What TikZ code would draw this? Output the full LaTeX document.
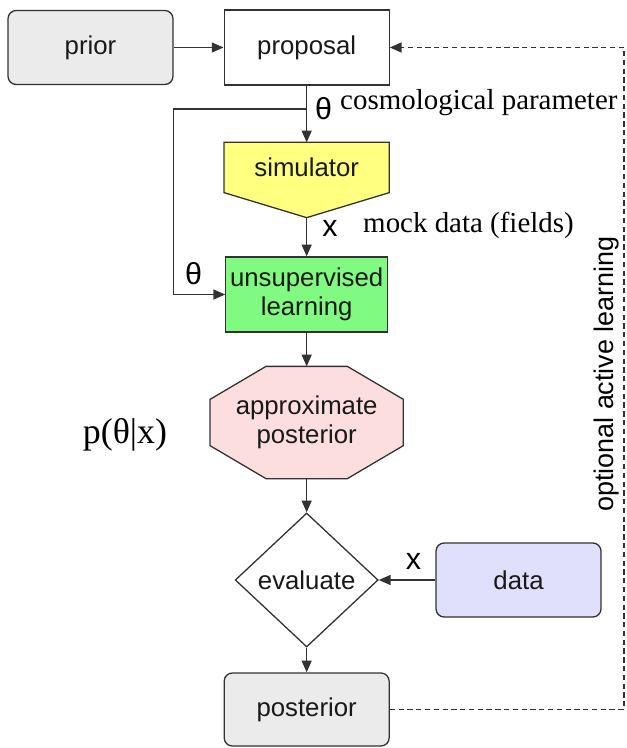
\documentclass[tikz,border=0pt]{standalone}
\usepackage{fontspec}
\setmainfont{Liberation Serif}
\setsansfont{Liberation Sans}
\usetikzlibrary{positioning,calc,arrows.meta,shapes.geometric,backgrounds}
\definecolor{lineclr}{RGB}{50,50,50}
\definecolor{priorbg}{RGB}{235,235,235}
\definecolor{simbg}{RGB}{255,255,128}
\definecolor{learnbg}{RGB}{128,250,128}
\definecolor{approxbg}{RGB}{253,222,222}
\definecolor{databg}{RGB}{224,224,252}

\tikzset{
  flow/.style={draw=lineclr, line width=1.1pt, text=black!90, align=center,
               font=\sffamily\fontsize{22}{25}\selectfont, inner sep=0pt},
  roundbox/.style={flow, rectangle, rounded corners=7pt, minimum width=4.95cm, minimum height=2.22cm},
  sqbox/.style={flow, rectangle, minimum width=4.95cm, minimum height=2.25cm},
  outline/.style={draw=lineclr, line width=1.1pt},
  arr/.style={draw=lineclr, line width=1.1pt, -{Triangle[length=10pt,width=8.5pt]}},
  fbline/.style={arr, dash pattern=on 4.5pt off 3pt},
  symlbl/.style={font=\sffamily\fontsize{26}{28}\selectfont, inner sep=0pt},
  notelbl/.style={font=\fontsize{24.7}{27}\selectfont, inner sep=0pt}
}

\begin{document}
\begin{tikzpicture}
  \useasboundingbox (0,0) rectangle (18.78,-22.44);

  % top row
  \node[roundbox, fill=priorbg] (prior) at (2.715,-1.425) {prior};
  \node[sqbox, fill=white] (proposal) at (9.2,-1.425) {proposal};

  % simulator: pentagon pointing down
  \node[flow, draw=none, minimum width=4.92cm, minimum height=1.47cm] (simulator) at (9.2,-5.025) {simulator};
  \coordinate (simtip) at ($(simulator.south)+(0,-0.75)$);

  \node[sqbox, fill=learnbg, minimum width=4.85cm] (unsup) at (9.2,-8.835) {unsupervised\\learning};

  % approximate posterior: stretched octagon
  \node[flow, draw=none, minimum width=5.76cm, minimum height=3.33cm] (approx) at (9.2,-12.675) {approximate\\posterior};

  \node[flow, diamond, minimum width=4.29cm, minimum height=4.02cm, fill=white] (evaluate) at (9.2,-17.4) {evaluate};
  \node[roundbox, fill=databg] (data) at (15.555,-17.4) {data};
  \node[roundbox, fill=priorbg, minimum height=2.19cm] (posterior) at (9.2,-21.285) {posterior};

  \begin{scope}[on background layer]
    \draw[outline, fill=simbg]
      (simulator.north west) -- (simulator.north east) -- (simulator.south east)
      -- (simtip) -- (simulator.south west) -- cycle;
    \draw[outline, fill=approxbg]
      ($(approx.north west)+(1.68,0)$) -- ($(approx.north east)+(-1.68,0)$)
      -- ($(approx.north east)+(0,-0.99)$) -- ($(approx.south east)+(0,0.99)$)
      -- ($(approx.south east)+(-1.68,0)$) -- ($(approx.south west)+(1.68,0)$)
      -- ($(approx.south west)+(0,0.99)$) -- ($(approx.north west)+(0,-0.99)$) -- cycle;
  \end{scope}

  % main flow
  \coordinate (split) at (9.2,-3.27);
  \coordinate (bend) at ($(unsup.west)+(-1.56,0)$);
  \coordinate (fb) at (18.72,0);
  \draw[arr] (prior) -- (proposal);
  \draw[arr] (proposal) -- (simulator);
  \draw[arr] (split) -| (bend) -- (unsup.west);
  \draw[arr] (simtip) -- (unsup);
  \draw[arr] (unsup) -- (approx);
  \draw[arr] (approx) -- (evaluate);
  \draw[arr] (data) -- (evaluate);
  \draw[arr] (evaluate) -- (posterior);
  \draw[fbline] (posterior.east) -| (proposal.east -| fb) -- (proposal.east);

  % labels
  \node[symlbl] (thetaA) at (9.705,-3.255) {θ};
  \node[notelbl, anchor=base west] (cosmo) at (10.2,-3.3) {cosmological parameter};
  \node[symlbl] (xA) at (9.9,-6.855) {x};
  \node[notelbl, anchor=base west] (mock) at (10.89,-6.96) {mock data (fields)};
  \node[symlbl] (thetaB) at (5.805,-8.205) {θ};
  \node[font=\fontsize{30.6}{33}\selectfont, inner sep=0pt, anchor=base] (pdist) at (3.75,-13.29) {p(θ|x)};
  \node[symlbl] (xB) at (12.405,-16.845) {x};
  \node[font=\sffamily\fontsize{23}{25}\selectfont, inner sep=0pt, anchor=base, rotate=90] (active) at (18.39,-11.22) {optional active learning};
\end{tikzpicture}
\end{document}
